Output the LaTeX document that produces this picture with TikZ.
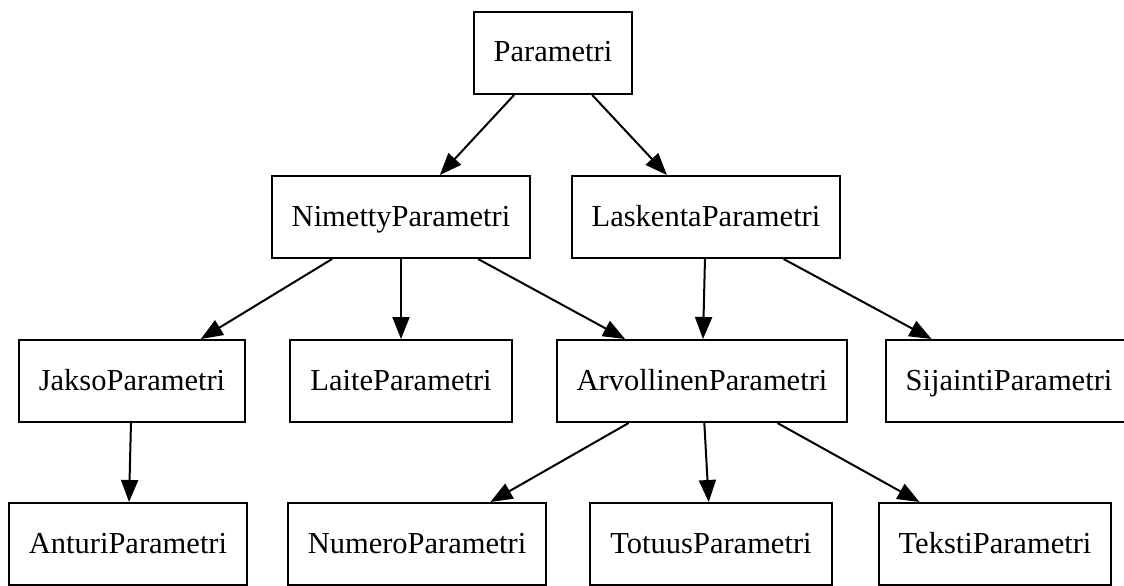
\documentclass[tikz,border=0pt]{standalone}
\usepackage{fontspec}
\setmainfont{Liberation Serif}
\usetikzlibrary{arrows.meta}

\tikzset{
    parambox/.style={draw, rectangle, line width=2pt, inner xsep=20pt,
        minimum height=82pt, text height=24pt, text depth=6pt,
        font=\fontsize{30.5}{36}\selectfont},
    paramedge/.style={line width=2pt, -{Triangle[length=22pt,width=17pt]}}
}

\begin{document}
\begin{tikzpicture}[x=1pt, y=-1pt]
            \useasboundingbox (0,0) rectangle (1124,586);
            % Top Layer
            \node[parambox] (Parametri) at (553,53) {Parametri};
            % Second Layer
            \foreach \name/\x in {NimettyParametri/401,LaskentaParametri/706} {
                \node[parambox] (\name) at (\x,217) {\name};
            }
            % Third Layer
            \foreach \name/\x in {JaksoParametri/132,LaiteParametri/401,ArvollinenParametri/702,SijaintiParametri/1009} {
                \node[parambox] (\name) at (\x,381) {\name};
            }
            % Bottom Layer
            \foreach \name/\x in {AnturiParametri/128,NumeroParametri/417,TotuusParametri/711,TekstiParametri/995} {
                \node[parambox] (\name) at (\x,544) {\name};
            }
            % Arrows
            \foreach \a/\b in {Parametri/NimettyParametri,Parametri/LaskentaParametri,
                NimettyParametri/JaksoParametri,NimettyParametri/LaiteParametri,
                NimettyParametri/ArvollinenParametri,LaskentaParametri/ArvollinenParametri,
                LaskentaParametri/SijaintiParametri,JaksoParametri/AnturiParametri,
                ArvollinenParametri/NumeroParametri,ArvollinenParametri/TotuusParametri,
                ArvollinenParametri/TekstiParametri} {
                \draw[paramedge] (\a) -- (\b);
            }
        \end{tikzpicture}
\end{document}
